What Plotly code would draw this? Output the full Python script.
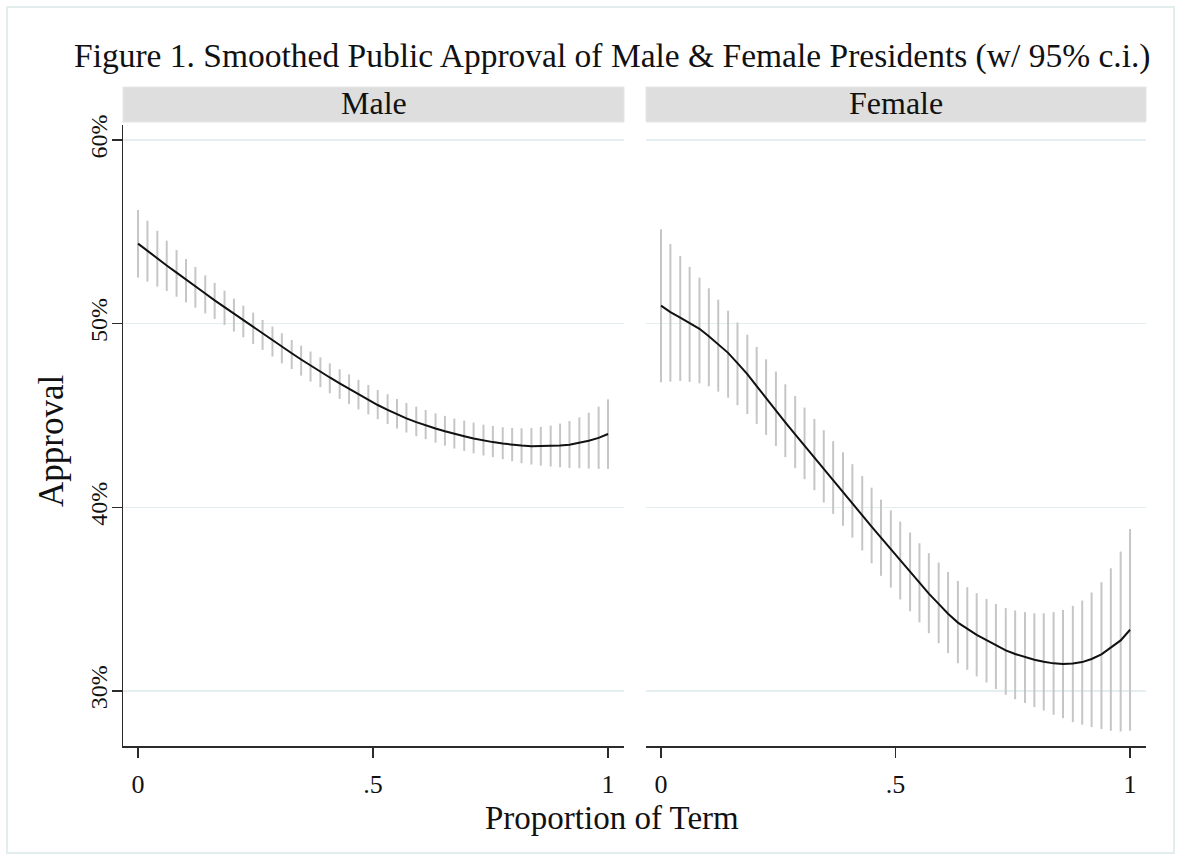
import plotly.graph_objects as go

W, H = 1181, 860

# ---- data ----
proportion = [0.000, 0.020, 0.041, 0.061, 0.082, 0.102, 0.122, 0.143, 0.163, 0.184,
              0.204, 0.224, 0.245, 0.265, 0.286, 0.306, 0.327, 0.347, 0.367, 0.388,
              0.408, 0.429, 0.449, 0.469, 0.490, 0.510, 0.531, 0.551, 0.571, 0.592,
              0.612, 0.633, 0.653, 0.673, 0.694, 0.714, 0.735, 0.755, 0.776, 0.796,
              0.816, 0.837, 0.857, 0.878, 0.898, 0.918, 0.939, 0.959, 0.980, 1.000]

male_fit = [54.36, 53.96, 53.57, 53.17, 52.78, 52.39, 52.02, 51.64, 51.27, 50.90,
            50.52, 50.16, 49.80, 49.44, 49.09, 48.73, 48.39, 48.05, 47.72, 47.40,
            47.07, 46.75, 46.45, 46.14, 45.85, 45.57, 45.31, 45.06, 44.84, 44.64,
            44.46, 44.29, 44.14, 43.99, 43.87, 43.75, 43.64, 43.55, 43.47, 43.41,
            43.36, 43.33, 43.33, 43.34, 43.36, 43.41, 43.50, 43.62, 43.78, 43.99]
male_hi = [56.19, 55.61, 55.06, 54.52, 54.01, 53.52, 53.09, 52.63, 52.22, 51.80,
           51.36, 50.98, 50.60, 50.20, 49.84, 49.48, 49.11, 48.80, 48.48, 48.17,
           47.84, 47.52, 47.24, 46.94, 46.66, 46.39, 46.16, 45.90, 45.68, 45.48,
           45.30, 45.12, 44.98, 44.83, 44.72, 44.61, 44.50, 44.43, 44.36, 44.32,
           44.30, 44.32, 44.38, 44.45, 44.56, 44.70, 44.90, 45.15, 45.48, 45.88]
male_lo = [52.51, 52.29, 52.02, 51.78, 51.47, 51.16, 50.87, 50.56, 50.26, 49.93,
           49.57, 49.26, 48.89, 48.57, 48.21, 47.84, 47.53, 47.17, 46.84, 46.54,
           46.21, 45.90, 45.62, 45.33, 45.06, 44.80, 44.54, 44.29, 44.07, 43.87,
           43.71, 43.52, 43.36, 43.20, 43.07, 42.94, 42.82, 42.73, 42.62, 42.51,
           42.40, 42.33, 42.27, 42.22, 42.18, 42.14, 42.13, 42.11, 42.09, 42.09]

female_fit = [50.98, 50.63, 50.33, 50.03, 49.72, 49.32, 48.89, 48.41, 47.85, 47.25,
              46.60, 45.94, 45.29, 44.63, 43.97, 43.35, 42.71, 42.06, 41.45, 40.84,
              40.20, 39.56, 38.95, 38.35, 37.75, 37.12, 36.50, 35.88, 35.30, 34.74,
              34.20, 33.72, 33.38, 33.05, 32.76, 32.47, 32.21, 32.01, 31.85, 31.70,
              31.59, 31.50, 31.47, 31.49, 31.57, 31.74, 31.99, 32.34, 32.75, 33.33]
female_hi = [55.14, 54.34, 53.69, 53.09, 52.51, 51.93, 51.31, 50.71, 50.06, 49.40,
             48.73, 48.06, 47.39, 46.70, 46.06, 45.43, 44.81, 44.20, 43.60, 43.00,
             42.35, 41.71, 41.07, 40.42, 39.83, 39.22, 38.63, 38.04, 37.50, 36.99,
             36.48, 35.99, 35.65, 35.32, 35.01, 34.74, 34.51, 34.38, 34.29, 34.23,
             34.23, 34.29, 34.41, 34.63, 34.92, 35.36, 35.92, 36.68, 37.59, 38.82]
female_lo = [46.81, 46.84, 46.88, 46.83, 46.75, 46.59, 46.30, 45.97, 45.56, 45.08,
             44.54, 43.94, 43.34, 42.73, 42.13, 41.53, 40.93, 40.26, 39.64, 39.00,
             38.35, 37.65, 36.95, 36.27, 35.63, 34.98, 34.34, 33.73, 33.14, 32.60,
             32.06, 31.51, 31.15, 30.79, 30.46, 30.10, 29.79, 29.55, 29.34, 29.12,
             28.93, 28.70, 28.52, 28.30, 28.16, 28.03, 27.92, 27.83, 27.79, 27.83]

panels = ["Male", "Female"]
y_ticks = [30, 40, 50, 60]
y_tick_text = ["30%", "40%", "50%", "60%"]
x_ticks = [0, 0.5, 1]
x_tick_text = ["0", ".5", "1"]

title_text = "Figure 1. Smoothed Public Approval of Male &amp; Female Presidents (w/ 95% c.i.)"
x_title = "Proportion of Term"
y_title = "Approval"

# ---- style ----
FONT = "Liberation Serif"
GRID = "#e4eef0"
AXIS = "#2b2b2b"
CI_COLOR = "#c6c6c6"
STRIP = "#dedede"


def px_x(p):
    return p / W


def px_y(p):
    return 1 - p / H


def ci_segments(x, lo, hi):
    xs, ys = [], []
    for a, l, h in zip(x, lo, hi):
        xs += [a, a, None]
        ys += [l, h, None]
    return xs, ys


fig = go.Figure()

series = [(male_fit, male_lo, male_hi, "x", "y"),
          (female_fit, female_lo, female_hi, "x2", "y2")]
for fit, lo, hi, xa, ya in series:
    sx, sy = ci_segments(proportion, lo, hi)
    fig.add_trace(go.Scatter(x=sx, y=sy, mode="lines", xaxis=xa, yaxis=ya,
                             line=dict(color=CI_COLOR, width=2),
                             hoverinfo="skip", showlegend=False))
    fig.add_trace(go.Scatter(x=proportion, y=fit, mode="lines", xaxis=xa, yaxis=ya,
                             line=dict(color="#111111", width=2),
                             showlegend=False))

x_dom_m = [px_x(123), px_x(624)]
x_dom_f = [px_x(646), px_x(1146)]
y_dom = [px_y(746), px_y(125)]
x_range = [-0.032, 1.034]
y_range = [27.0, 60.82]

xaxis_common = dict(range=x_range, showgrid=False, zeroline=False,
                    showline=True, linecolor=AXIS, linewidth=1.5,
                    ticks="outside", ticklen=10, tickwidth=1.5, tickcolor=AXIS,
                    tickvals=x_ticks, ticktext=x_tick_text,
                    tickfont=dict(family=FONT, size=26, color="#111"),
                    ticklabelstandoff=4, fixedrange=True, automargin=False)

fig.update_layout(
    template="none",
    width=W, height=H, autosize=False,
    margin=dict(l=0, r=0, t=0, b=0, pad=0),
    paper_bgcolor="white", plot_bgcolor="white",
    showlegend=False,
    xaxis=dict(domain=x_dom_m, anchor="y", **xaxis_common),
    xaxis2=dict(domain=x_dom_f, anchor="y2", **xaxis_common),
    yaxis=dict(domain=y_dom, anchor="x", range=y_range,
               showgrid=True, gridcolor=GRID, gridwidth=1.5, zeroline=False,
               showline=True, linecolor=AXIS, linewidth=1.5,
               ticks="outside", ticklen=10, tickwidth=1.5, tickcolor=AXIS,
               tickvals=y_ticks, ticktext=y_tick_text, tickangle=-90,
               tickfont=dict(family=FONT, size=24, color="#111"),
               ticklabelstandoff=-5, fixedrange=True, automargin=False),
    yaxis2=dict(domain=y_dom, anchor="x2", range=y_range,
                showgrid=True, gridcolor=GRID, gridwidth=1.5, zeroline=False,
                showline=False, ticks="", tickvals=y_ticks,
                showticklabels=False, fixedrange=True, automargin=False),
)

shapes = [
    dict(type="rect", xref="paper", yref="paper",
         x0=px_x(7), x1=px_x(1174), y0=px_y(853), y1=px_y(7),
         line=dict(color="#e3eded", width=2), fillcolor="rgba(0,0,0,0)", layer="below"),
]
annotations = [
    dict(text=title_text, x=px_x(612), y=px_y(56), xref="paper", yref="paper",
         xanchor="center", yanchor="middle", showarrow=False,
         font=dict(family=FONT, size=33.5, color="#111")),
    dict(text=x_title, x=px_x(612), y=px_y(818), xref="paper", yref="paper",
         xanchor="center", yanchor="middle", showarrow=False,
         font=dict(family=FONT, size=33, color="#111")),
    dict(text=y_title, x=px_x(51), y=px_y(441), xref="paper", yref="paper",
         xanchor="center", yanchor="middle", showarrow=False, textangle=-90,
         font=dict(family=FONT, size=35, color="#111")),
]
for name, dom in zip(panels, [x_dom_m, x_dom_f]):
    shapes.append(dict(type="rect", xref="paper", yref="paper",
                       x0=dom[0], x1=dom[1], y0=px_y(122), y1=px_y(87),
                       line=dict(color="#e6e6e6", width=1), fillcolor=STRIP))
    annotations.append(dict(text=name, x=(dom[0] + dom[1]) / 2, y=px_y(103),
                            xref="paper", yref="paper", xanchor="center",
                            yanchor="middle", showarrow=False,
                            font=dict(family=FONT, size=32, color="#111")))

fig.update_layout(shapes=shapes, annotations=annotations)

fig.write_html("out.html",
               config={"displayModeBar": False, "staticPlot": True},
               post_script="document.body.style.margin='0px';document.body.style.overflow='hidden';")
